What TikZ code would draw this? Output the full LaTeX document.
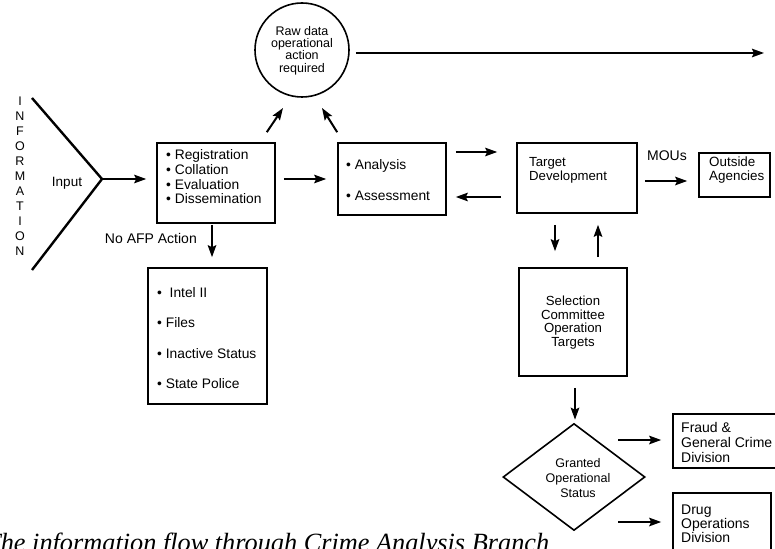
\documentclass[tikz,border=0pt]{standalone}
\usepackage{fontspec}
\setmainfont{Liberation Sans}
\newfontfamily\capfont{Liberation Serif}
\usetikzlibrary{arrows.meta,shapes.geometric,calc}
\begin{document}
\begin{tikzpicture}[x=1pt,y=-1pt,
  arr/.style={line width=2pt,-{Stealth[length=12pt,width=8.5pt,inset=2pt]}},
  box/.style={draw,line width=1.6pt,inner sep=0pt,rectangle},
  txt/.style={inner sep=0pt,font=\fontsize{13}{14.7}\selectfont},
  small/.style={inner sep=0pt,font=\fontsize{12.5}{12.4}\selectfont}]
\useasboundingbox (0,0) rectangle (775,548);

% INFORMATION letters and V
\node[inner sep=0pt,align=center,font=\fontsize{12.5}{15}\selectfont] (info) at (20,176)
  {I\\N\\F\\O\\R\\M\\A\\T\\I\\O\\N};
\coordinate (vtop) at (32,98);
\coordinate (vtip) at (102,179);
\coordinate (vbot) at (32,270);
\draw[line width=2.4pt] (vtop) -- (vtip) -- (vbot);
\node[txt,font=\fontsize{13.5}{15}\selectfont] (input) at (67,183) {Input};

% boxes
\node[box,minimum width=118pt,minimum height=80pt] (b1) at (216,183) {};
\node[txt,anchor=west,align=left,font=\fontsize{13.8}{14.7}\selectfont] (b1t) at (166,177)
  {• Registration\\• Collation\\• Evaluation\\• Dissemination};

\node[box,minimum width=108pt,minimum height=72pt] (b2) at (392,179) {};
\node[anchor=west,align=left,inner sep=0pt,font=\fontsize{13.8}{31}\selectfont] (b2t) at (346,180)
  {• Analysis\\• Assessment};

\node[box,minimum width=120pt,minimum height=70pt] (td) at (577,178) {};
\node[txt,anchor=west,align=left,font=\fontsize{13.2}{14}\selectfont] (tdt) at (529,170)
  {Target\\Development};

\node[box,minimum width=71pt,minimum height=44pt] (out) at (734.5,175) {};
\node[txt,anchor=west,align=left,font=\fontsize{13.4}{14}\selectfont] (outt) at (709,170)
  {Outside\\Agencies};

\node[draw,circle,line width=1.6pt,minimum size=94pt,inner sep=0pt] (circ) at (302,50) {};
\node[small,align=center] (circt) at (302,50.5)
  {Raw data\\operational\\action\\required};

\node[box,minimum width=119pt,minimum height=136pt] (intel) at (207.5,336) {};
\node[anchor=west,align=left,inner sep=0pt,font=\fontsize{13.8}{30.5}\selectfont] (intelt) at (157,338)
  {•\ \ Intel II\\• Files\\• Inactive Status\\• State Police};

\node[box,minimum width=108pt,minimum height=108pt] (sc) at (573,322) {};
\node[txt,align=center,font=\fontsize{13.2}{13.8}\selectfont] (sct) at (573,322.5)
  {Selection\\Committee\\Operation\\Targets};

\node[draw,diamond,aspect=1.33,line width=1.6pt,minimum width=142pt,minimum height=107pt,inner sep=0pt] (dia) at (574,477) {};
\node[txt,align=center,font=\fontsize{12.5}{15}\selectfont] (diat) at (578,478)
  {Granted\\Operational\\Status};

\node[box,minimum width=107pt,minimum height=54pt] (fraud) at (726.5,441) {};
\node[txt,anchor=west,align=left,font=\fontsize{14}{15}\selectfont] (fraudt) at (681,442)
  {Fraud \&\\General Crime\\Division};

\node[box,minimum width=98pt,minimum height=67pt] (drug) at (722,526.5) {};
\node[txt,anchor=west,align=left,font=\fontsize{14}{14}\selectfont] (drugt) at (681,524)
  {Drug\\Operations\\Division};

% labels
\node[txt,anchor=east,font=\fontsize{14}{15}\selectfont] (noafp) at (197,238) {No AFP Action};
\node[txt,font=\fontsize{14}{15}\selectfont] (mous) at (667,156) {MOUs};

% connectors
\draw[arr,shorten >=10pt] (vtip) -- (vtip -| b1.west);
\draw[arr,shorten <=8pt,shorten >=11pt] (b1.east |- b2.west) -- (b2.west);
\draw[arr,shorten <=9pt,shorten >=19pt] ([yshift=27pt]b2.east) -- ([yshift=27pt]b2.east -| td.west);
\draw[arr,shorten <=15pt,shorten >=9pt] ([yshift=-18pt]b2.east -| td.west) -- ([yshift=-18pt]b2.east);
\draw[arr,shorten <=7pt,shorten >=11pt] ([yshift=-3pt]td.east) -- ([yshift=-3pt]td.east -| out.west);
\draw[arr,shorten <=1pt,shorten >=10pt] ([xshift=-4pt]b1.south) -- ([xshift=-4pt]b1.south |- intel.north);
\draw[arr] ([shift={(-9,-10)}]b1.north east) -- ($(circ.center)+(-19,58)$);
\draw[arr] ([shift={(0,-10)}]b2.north west) -- ($(circ.center)+(20,58)$);
\coordinate (topend) at (764,53);
\draw[arr,shorten <=6pt] (circ.east |- topend) -- (topend);
\draw[arr,shorten <=11pt,shorten >=16pt] ([xshift=-22pt]td.south) -- ([xshift=-22pt]td.south |- sc.north);
\draw[arr,shorten <=10pt,shorten >=11pt] ([xshift=21pt]td.south |- sc.north) -- ([xshift=21pt]td.south);
\draw[arr,shorten <=11pt,shorten >=3pt] ([xshift=2pt]sc.south) -- ([xshift=2pt]sc.south |- dia.north);
\coordinate (fa) at ($(dia.center)+(44,-37)$);
\coordinate (da) at ($(dia.center)+(44,45)$);
\draw[arr,shorten >=11pt] (fa) -- (fa -| fraud.west);
\draw[arr,shorten >=11pt] (da) -- (da -| drug.west);

% caption (cut at the bottom edge, as in the reference)
\node[anchor=base west,inner sep=0pt,font=\capfont\itshape\fontsize{26.3}{30}\selectfont] (cap) at (-14,551)
  {The information flow through Crime Analysis Branch};
\end{tikzpicture}
\end{document}
